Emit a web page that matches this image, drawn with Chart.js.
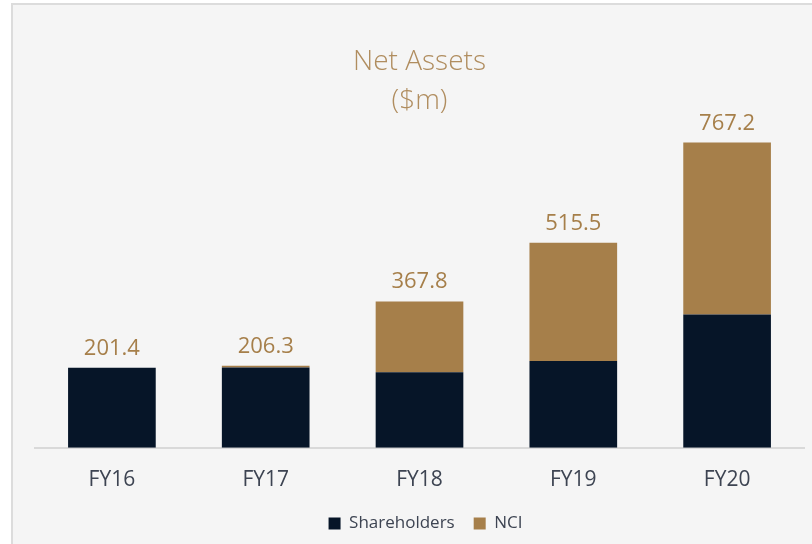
<!DOCTYPE html>
<html>
<head>
<meta charset="utf-8">
<script src="https://cdn.jsdelivr.net/npm/chart.js@4/dist/chart.umd.min.js"></script>
<style>
  html, body { margin: 0; padding: 0; background: #ffffff; width: 812px; height: 544px; overflow: hidden; }
  #card { position: absolute; left: 11px; top: 3px; width: 801px; height: 541px; background: #f5f5f5;
          border-left: 2px solid #dcdcdc; border-top: 2px solid #dcdcdc; }
  #wrap { position: absolute; left: 0; top: 0; width: 812px; height: 544px; }
</style>
</head>
<body>
<div id="card"></div>
<div id="wrap"><canvas id="c" width="812" height="544"></canvas></div>
<script>
const categories = ['FY16', 'FY17', 'FY18', 'FY19', 'FY20'];
const shareholders = [201.4, 202.0, 190.0, 218.0, 335.0];
const nci = [0, 4.3, 177.8, 297.5, 432.2];
const totals = [201.4, 206.3, 367.8, 515.5, 767.2];
const titleLines = ['Net Assets', '($m)'];
const seriesNames = ['Shareholders', 'NCI'];

const NAVY = '#061528';
const TAN = '#a67f4a';

const totalsPlugin = {
  id: 'totals',
  afterDatasetsDraw(chart) {
    const ctx = chart.ctx;
    const yScale = chart.scales.y;
    const meta = chart.getDatasetMeta(0);
    ctx.save();
    ctx.font = '400 22px "Open Sans"';
    ctx.fillStyle = TAN;
    ctx.textAlign = 'center';
    ctx.textBaseline = 'alphabetic';
    totals.forEach((t, i) => {
      const x = meta.data[i].x;
      const y = yScale.getPixelForValue(t);
      ctx.fillText(t.toFixed(1), x, y - 13);
    });
    ctx.restore();
  }
};

const legendShift = {
  id: 'legendShift',
  beforeDraw(chart) {
    if (chart.legend && !chart.legend._shifted) {
      chart.legend.left += 6;
      chart.legend.right += 6;
      chart.legend._shifted = true;
    }
  }
};

new Chart(document.getElementById('c'), {
  type: 'bar',
  data: {
    labels: categories,
    datasets: [
      { label: seriesNames[0], data: shareholders, backgroundColor: NAVY, borderWidth: 0,
        categoryPercentage: 1, barPercentage: 0.57 },
      { label: seriesNames[1], data: nci, backgroundColor: TAN, borderWidth: 0,
        categoryPercentage: 1, barPercentage: 0.57 }
    ]
  },
  options: {
    responsive: false,
    animation: false,
    layout: { padding: { left: 35, right: 8, top: 0, bottom: 2 } },
    plugins: {
      title: {
        display: true,
        text: titleLines,
        color: '#b08d5f',
        font: { family: '"Open Sans"', size: 28, weight: '300', lineHeight: 1.39 },
        padding: { top: 43, bottom: 11 }
      },
      legend: {
        display: true,
        position: 'bottom',
        labels: {
          boxWidth: 12, boxHeight: 12, padding: 19,
          color: '#3d4452',
          font: { family: '"Open Sans"', size: 17 }
        }
      },
      tooltip: { enabled: false }
    },
    scales: {
      x: {
        stacked: true,
        grid: { display: false, drawTicks: false },
        border: { display: true, color: '#d9d9d9', width: 2 },
        ticks: { color: '#3d4452', font: { family: '"Open Sans"', size: 21 }, padding: 20 },
        afterFit(scale) { scale.height -= 17; }
      },
      y: {
        stacked: true,
        display: false,
        min: 0,
        max: 794
      }
    }
  },
  plugins: [totalsPlugin, legendShift]
});
</script>
</body>
</html>
